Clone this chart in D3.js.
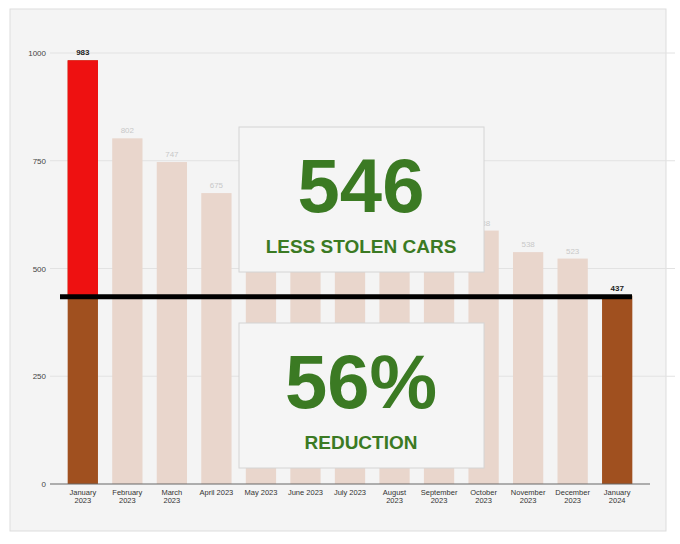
<!DOCTYPE html>
<html>
<head>
<script src="https://d3js.org/d3.v7.min.js"></script>
<style>
  body { margin: 0; background: #fff; font-family: "Liberation Sans", Arial, sans-serif; }
</style>
</head>
<body>
<div id="chart"></div>
<script>
const months = ["January 2023", "February 2023", "March 2023", "April 2023", "May 2023", "June 2023",
  "July 2023", "August 2023", "September 2023", "October 2023", "November 2023", "December 2023", "January 2024"];
// May-September values are hidden behind the callout boxes (estimated)
const thefts = [983, 802, 747, 675, 640, 620, 600, 610, 595, 588, 538, 523, 437];
const hiddenLabels = [4, 5, 6, 7, 8];
const yTicks = [0, 250, 500, 750, 1000];
const baseline = 437;

const width = 680, height = 544;
const svg = d3.select("#chart").append("svg").attr("width", width).attr("height", height);

svg.append("rect").attr("x", 10).attr("y", 9).attr("width", 656).attr("height", 522)
  .attr("fill", "#f4f4f4").attr("stroke", "#ddd");

const x = d3.scaleBand().domain(months).range([61, 639]).paddingInner(0.32).paddingOuter(0.15);
const y = d3.scaleLinear().domain([0, 1000]).range([484, 53]);

// grid
svg.selectAll(".grid").data(yTicks.slice(1)).enter().append("line")
  .attr("x1", 50).attr("x2", 675).attr("y1", d => y(d)).attr("y2", d => y(d))
  .attr("stroke", "#e2e2e2");
svg.selectAll(".ytick").data(yTicks).enter().append("text")
  .attr("x", 46).attr("y", d => y(d) + 3).attr("text-anchor", "end")
  .attr("font-size", 8).attr("fill", "#444").text(d => d);

const last = months.length - 1;
// bars
svg.selectAll(".bar").data(thefts).enter().append("rect")
  .attr("x", (d, i) => x(months[i])).attr("width", x.bandwidth())
  .attr("y", d => y(d)).attr("height", d => y(0) - y(d))
  .attr("fill", (d, i) => i === 0 || i === last ? "#a0501f" : "#e9d6cc");
// red excess on first bar
svg.append("rect").attr("x", x(months[0])).attr("width", x.bandwidth())
  .attr("y", y(thefts[0])).attr("height", y(baseline) - y(thefts[0])).attr("fill", "#ee1111");

// value labels (those under the callout boxes are not visible)
svg.selectAll(".val").data(thefts.map((v, i) => [v, i]).filter(d => !hiddenLabels.includes(d[1])))
  .enter().append("text")
  .attr("x", d => x(months[d[1]]) + x.bandwidth() / 2).attr("y", d => y(d[0]) - 5)
  .attr("text-anchor", "middle").attr("font-size", 8)
  .attr("font-weight", d => d[1] === 0 || d[1] === last ? "bold" : "normal")
  .attr("fill", d => d[1] === 0 || d[1] === last ? "#222" : "#c8c8c8").text(d => d[0]);

// x axis
svg.append("line").attr("x1", 50).attr("x2", 650).attr("y1", y(0)).attr("y2", y(0)).attr("stroke", "#666");
months.forEach((m, i) => {
  const parts = m.split(" ");
  const t = svg.append("text").attr("x", x(m) + x.bandwidth() / 2).attr("y", 495)
    .attr("text-anchor", "middle").attr("font-size", 7.5).attr("fill", "#333");
  if (m.startsWith("April") || m.startsWith("May") || m.startsWith("June") || m.startsWith("July")) {
    t.text(m);
  } else {
    t.append("tspan").attr("x", x(m) + x.bandwidth() / 2).text(parts[0]);
    t.append("tspan").attr("x", x(m) + x.bandwidth() / 2).attr("dy", 8).text(parts[1]);
  }
});

// callout boxes
const green = "#3b7a23";
[[127, "546", "LESS STOLEN CARS"], [323, "56%", "REDUCTION"]].forEach(([top, big, small]) => {
  svg.append("rect").attr("x", 239).attr("y", top).attr("width", 245).attr("height", 145)
    .attr("fill", "#f5f5f5").attr("stroke", "#d4d4d4");
  svg.append("text").attr("x", 361).attr("y", top + 85).attr("text-anchor", "middle")
    .attr("font-size", 76).attr("font-weight", "bold").attr("fill", green).text(big);
  svg.append("text").attr("x", 361).attr("y", top + 126).attr("text-anchor", "middle")
    .attr("font-size", 19).attr("font-weight", "bold").attr("fill", green).text(small);
});

// baseline line
svg.append("line").attr("x1", 60).attr("x2", 632).attr("y1", y(baseline) + 1).attr("y2", y(baseline) + 1)
  .attr("stroke", "#000").attr("stroke-width", 5);
</script>
</body>
</html>
